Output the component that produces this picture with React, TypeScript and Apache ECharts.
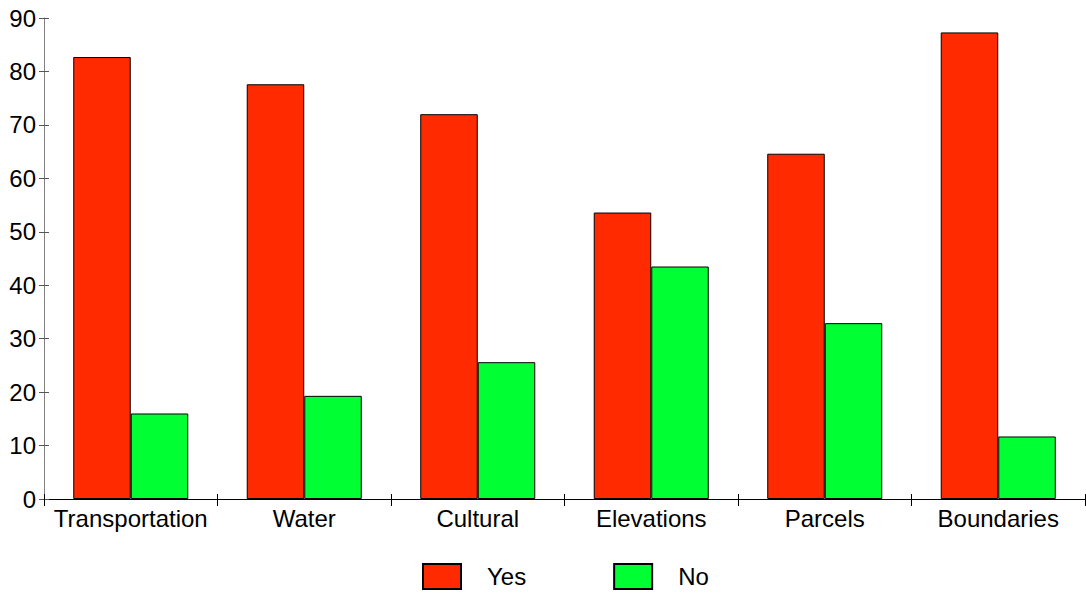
import React, { useEffect, useRef } from "react";
import * as echarts from "echarts";

const categories = ["Transportation", "Water", "Cultural", "Elevations", "Parcels", "Boundaries"];
const yesValues = [82.7, 77.6, 72.0, 53.6, 64.6, 87.3];
const noValues = [16.0, 19.3, 25.6, 43.5, 32.9, 11.7];
const seriesNames = ["Yes", "No"];

const FONT = "'Liberation Sans', Arial, sans-serif";

export default function App() {
  const ref = useRef<HTMLDivElement>(null);
  useEffect(() => {
    document.body.style.margin = "0";
    const chart = echarts.init(ref.current!, null, { renderer: "svg" });
    chart.setOption({
      animation: false,
      textStyle: { fontFamily: FONT },
      grid: { left: 44, right: 1, top: 18, bottom: 94, containLabel: false },
      legend: {
        left: 422,
        top: 563,
        padding: 0,
        icon: "rect",
        itemWidth: 38,
        itemHeight: 25,
        itemGap: 87,
        textStyle: { fontSize: 24, color: "#000", fontFamily: FONT, padding: [0, 0, 0, 21] },
        data: seriesNames,
      },
      xAxis: [
        {
          type: "category",
          data: categories,
          axisLine: { lineStyle: { color: "#000", width: 1 } },
          axisTick: { show: true, length: 7, lineStyle: { color: "#000" } },
          axisLabel: { fontSize: 24, color: "#000", margin: 7, interval: 0, fontFamily: FONT },
          splitLine: { show: false },
        },
        {
          type: "category",
          data: categories,
          position: "bottom",
          axisLine: { show: false },
          axisTick: { show: true, inside: true, length: 5, lineStyle: { color: "#000" } },
          axisLabel: { show: false },
          splitLine: { show: false },
        },
      ],
      yAxis: [
        {
          type: "value",
          min: 0,
          max: 90,
          interval: 10,
          axisLine: { show: true, lineStyle: { color: "#808080" } },
          axisTick: { show: true, length: 5, lineStyle: { color: "#555" } },
          axisLabel: { fontSize: 24, color: "#000", margin: 8, fontFamily: FONT },
          splitLine: { show: false },
        },
        {
          type: "value",
          min: 0,
          max: 90,
          interval: 10,
          position: "left",
          axisLine: { show: false },
          axisTick: { show: true, inside: true, length: 5, lineStyle: { color: "#555" } },
          axisLabel: { show: false },
          splitLine: { show: false },
        },
      ],
      series: [
        {
          name: seriesNames[0],
          type: "bar",
          data: yesValues,
          barGap: "0%",
          barCategoryGap: "33.7%",
          itemStyle: { color: "#ff2a00", borderColor: "#000", borderWidth: 1 },
        },
        {
          name: seriesNames[1],
          type: "bar",
          data: noValues,
          barGap: "0%",
          barCategoryGap: "33.7%",
          itemStyle: { color: "#00ff33", borderColor: "#000", borderWidth: 1 },
        },
      ],
    });
    return () => chart.dispose();
  }, []);
  return <div ref={ref} style={{ width: 1086, height: 593 }} />;
}
